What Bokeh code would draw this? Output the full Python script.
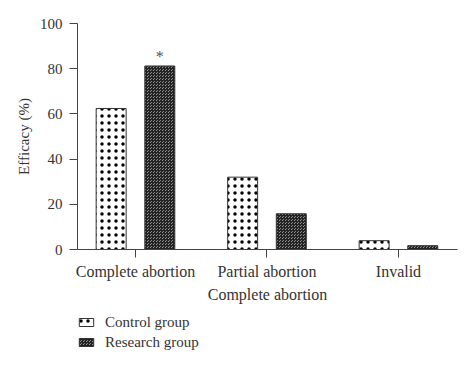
from bokeh.plotting import figure
from bokeh.layouts import column
from bokeh.models import ColumnDataSource, FixedTicker, Range1d, Legend, LegendItem
from bokeh.core.properties import value
from bokeh.embed import file_html
from bokeh.resources import INLINE

categories = ["Complete abortion", "Partial abortion", "Invalid"]
control = [62.4, 32.0, 3.9]
research = [81.2, 15.8, 1.7]
y_ticks = [0, 20, 40, 60, 80, 100]
x_title = "Complete abortion"
y_title = "Efficacy (%)"
series_names = ["Control group", "Research group"]

FONT = "Liberation Serif"
TXT = "#333333"

STY_C = dict(fill_color="white", line_color="#333333", line_width=1,
             hatch_pattern="dot", hatch_color="black", hatch_scale=7, hatch_weight=3.5)
STY_R = dict(fill_color="#c4c4c4", line_color="#333333", line_width=1,
             hatch_pattern="criss_cross", hatch_color="#222222", hatch_scale=3, hatch_weight=1.1)

xpos = [i + 1 for i in range(len(categories))]
off = 0.185
w = 0.228

p = figure(width=466, height=305, output_backend="svg", toolbar_location=None,
           x_range=Range1d(0.559, 3.449), y_range=Range1d(0, 100),
           min_border_left=77, min_border_right=9, min_border_top=23, min_border_bottom=10)
p.outline_line_color = None
p.grid.grid_line_color = None

src_c = ColumnDataSource(dict(x=[v - off for v in xpos], top=control))
src_r = ColumnDataSource(dict(x=[v + off for v in xpos], top=research))

p.vbar(x="x", top="top", width=w, source=src_c, **STY_C)
p.vbar(x="x", top="top", width=w, source=src_r, **STY_R)

# significance marker
p.text(x=[xpos[0] + off], y=[research[0]], text=["*"], text_align="center",
       text_baseline="bottom", y_offset=-1, text_font=value(FONT),
       text_font_size="16px", text_color="#555555")

xa = p.xaxis[0]
xa.ticker = FixedTicker(ticks=xpos)
xa.major_label_overrides = {v: c for v, c in zip(xpos, categories)}
xa.axis_label = x_title
ya = p.yaxis[0]
ya.ticker = FixedTicker(ticks=y_ticks)
ya.axis_label = y_title

for ax in (xa, ya):
    ax.axis_line_color = "#444444"
    ax.major_tick_line_color = "#444444"
    ax.major_tick_out = 8
    ax.major_tick_in = 0
    ax.minor_tick_line_color = None
    ax.major_label_text_font = FONT
    ax.major_label_text_color = TXT
    ax.axis_label_text_font = FONT
    ax.axis_label_text_font_style = "normal"
    ax.axis_label_text_color = TXT
xa.major_label_text_font_size = "16px"
xa.axis_label_text_font_size = "16px"
ya.major_label_text_font_size = "15px"
ya.axis_label_text_font_size = "15px"
xa.major_label_standoff = 5
xa.axis_label_standoff = 3
ya.major_label_standoff = 7
ya.axis_label_standoff = 5

# legend strip below the chart; swatch renderers are zero-size (draw nothing themselves)
q = figure(width=466, height=55, output_backend="svg", toolbar_location=None,
           x_range=Range1d(0, 1), y_range=Range1d(0, 1),
           x_axis_type=None, y_axis_type=None, min_border=0)
q.outline_line_color = None
q.grid.grid_line_color = None
lc = q.vbar(x=[0.9], bottom=[0.5], top=[0.5], width=0, **STY_C)
lr = q.vbar(x=[0.9], bottom=[0.5], top=[0.5], width=0, **STY_R)
legend = Legend(items=[LegendItem(label=series_names[0], renderers=[lc]),
                       LegendItem(label=series_names[1], renderers=[lr])],
                location=(0, 9), orientation="vertical",
                border_line_color=None, background_fill_alpha=0,
                label_text_font=FONT, label_text_font_size="15px", label_text_color=TXT,
                glyph_width=18, glyph_height=10, spacing=2, padding=0, margin=0,
                label_standoff=10, label_height=18)
q.add_layout(legend, "center")

open("out.html", "w").write(file_html(column(p, q, spacing=0), INLINE))
